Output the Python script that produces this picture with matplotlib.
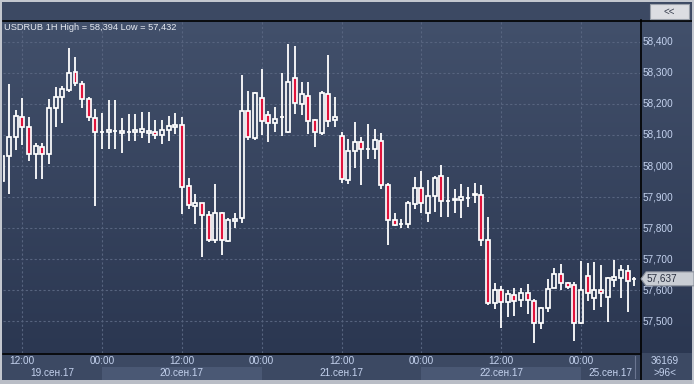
import numpy as np
import pandas as pd
import matplotlib
matplotlib.use("Agg")
import matplotlib.pyplot as plt
from matplotlib import transforms
from matplotlib.patches import Rectangle, Polygon
from matplotlib.lines import Line2D

plt.rcParams['font.family'] = ['Liberation Sans', 'DejaVu Sans']

# --- data: USDRUB hourly candles ---
symbol = "USDRUB"
period = "1H"
bars_total = "36169"
bars_shown = ">96<"

open_ = [57.952, 58.033, 58.092, 58.158, 58.125, 58.040, 58.062, 58.040, 58.186, 58.221,
         58.244, 58.302, 58.263, 58.215, 58.154, 58.109, 58.110, 58.112, 58.107, 58.108,
         58.108, 58.108, 58.107, 58.108, 58.099, 58.115, 58.125, 58.132, 57.935, 57.872,
         57.880, 57.841, 57.761, 57.848, 57.758, 57.824, 57.832, 58.176, 58.091, 58.219,
         58.163, 58.139, 58.157, 58.108, 58.282, 58.199, 58.224, 58.147, 58.107, 58.231,
         58.147, 58.096, 57.956, 58.047, 58.076, 58.055, 58.056, 58.080, 57.938, 57.825,
         57.814, 57.812, 57.877, 57.928, 57.848, 57.903, 57.967, 57.886, 57.892, 57.890,
         57.897, 57.908, 57.908, 57.763, 57.558, 57.600, 57.562, 57.584, 57.568, 57.591,
         57.565, 57.494, 57.542, 57.607, 57.652, 57.623, 57.617, 57.494, 57.646, 57.574,
         57.601, 57.580, 57.632, 57.639, 57.661, 57.636]
high = [58.040, 58.264, 58.180, 58.220, 58.159, 58.073, 58.073, 58.216, 58.255, 58.257,
        58.379, 58.352, 58.274, 58.222, 58.183, 58.172, 58.212, 58.212, 58.154, 58.167,
        58.167, 58.174, 58.174, 58.148, 58.148, 58.161, 58.170, 58.159, 57.960, 57.910,
        57.882, 57.855, 57.942, 57.853, 57.833, 57.848, 58.293, 58.241, 58.237, 58.312,
        58.177, 58.190, 58.299, 58.394, 58.386, 58.270, 58.270, 58.151, 58.242, 58.357,
        58.223, 58.108, 58.086, 58.142, 58.092, 58.135, 58.118, 58.106, 57.944, 57.848,
        57.830, 57.887, 57.965, 57.984, 57.955, 57.967, 58.003, 57.965, 57.926, 57.942,
        57.933, 57.945, 57.940, 57.837, 57.625, 57.614, 57.600, 57.607, 57.607, 57.620,
        57.571, 57.547, 57.636, 57.671, 57.685, 57.626, 57.627, 57.694, 57.689, 57.692,
        57.681, 57.642, 57.698, 57.681, 57.681, 57.642]
low = [57.920, 57.910, 58.052, 58.068, 58.016, 57.958, 57.958, 58.007, 58.126, 58.139,
       58.239, 58.258, 58.188, 58.146, 57.871, 58.056, 58.056, 58.056, 58.043, 58.081,
       58.081, 58.091, 58.075, 58.088, 58.072, 58.081, 58.103, 57.847, 57.863, 57.813,
       57.708, 57.757, 57.753, 57.715, 57.756, 57.802, 57.816, 58.084, 58.084, 58.100,
       58.078, 58.108, 58.097, 58.106, 58.167, 58.164, 58.102, 58.062, 58.100, 58.124,
       58.125, 57.946, 57.943, 57.993, 57.940, 58.023, 58.023, 57.927, 57.747, 57.806,
       57.802, 57.802, 57.863, 57.848, 57.821, 57.851, 57.837, 57.837, 57.848, 57.834,
       57.869, 57.880, 57.742, 57.554, 57.541, 57.480, 57.515, 57.517, 57.547, 57.525,
       57.432, 57.475, 57.529, 57.607, 57.601, 57.603, 57.437, 57.493, 57.567, 57.537,
       57.547, 57.499, 57.610, 57.576, 57.531, 57.615]
close = [58.033, 58.092, 58.161, 58.125, 58.038, 58.065, 58.040, 58.186, 58.221, 58.248,
         58.298, 58.266, 58.215, 58.157, 58.108, 58.110, 58.115, 58.113, 58.112, 58.109,
         58.115, 58.118, 58.113, 58.099, 58.115, 58.129, 58.132, 57.933, 57.874, 57.880,
         57.841, 57.762, 57.848, 57.761, 57.825, 57.830, 58.176, 58.092, 58.234, 58.144,
         58.139, 58.150, 58.158, 58.269, 58.204, 58.231, 58.144, 58.108, 58.234, 58.144,
         58.157, 57.959, 58.047, 58.076, 58.054, 58.056, 58.083, 57.938, 57.825, 57.811,
         57.815, 57.880, 57.928, 57.880, 57.903, 57.960, 57.886, 57.887, 57.893, 57.899,
         57.898, 57.911, 57.763, 57.558, 57.600, 57.562, 57.587, 57.565, 57.591, 57.568,
         57.494, 57.542, 57.603, 57.653, 57.623, 57.612, 57.494, 57.601, 57.590, 57.601,
         57.592, 57.639, 57.642, 57.665, 57.631, 57.637]

# hourly bars, weekend skipped
times = list(pd.date_range("2017-09-19 09:00", "2017-09-22 23:00", freq="h")) + \
        list(pd.date_range("2017-09-25 00:00", "2017-09-25 08:00", freq="h"))
month_names = {9: "сен"}
price_ticks = [57.5, 57.6, 57.7, 57.8, 57.9, 58.0, 58.1, 58.2, 58.3, 58.4]

W, H = 694, 384
BG = "#3c4963"
RED = "#e0143c"
LABEL = "#c4d2ee"
GRID = "#57647f"


def fx(px):
    return px / W


def fy(py):
    return 1 - py / H


def frect(x0, y0, x1, y1, color, z=5):
    fig.add_artist(Rectangle((fx(x0), fy(y1)), fx(x1) - fx(x0), fy(y0) - fy(y1),
                             transform=fig.transFigure, facecolor=color,
                             edgecolor="none", zorder=z))


def fline(x0, y0, x1, y1, color, lw=1.0, z=6):
    fig.add_artist(Line2D([fx(x0), fx(x1)], [fy(y0), fy(y1)], transform=fig.transFigure,
                          color=color, lw=lw, zorder=z))


fig = plt.figure(figsize=(W / 100, H / 100), dpi=100)
fig.patch.set_facecolor(BG)

# gradient behind plot + price scale
bg = fig.add_axes([0, fy(353), 1, fy(20) - fy(353)])
bg.axis("off")
top_c = np.array([0x42, 0x50, 0x6b]) / 255
bot_c = np.array([0x2b, 0x37, 0x51]) / 255
t = np.linspace(0, 1, 256)[:, None, None]
grad = top_c * (1 - t) + bot_c * t
grad = np.repeat(grad, 2, axis=1)
bg.imshow(grad, aspect="auto", extent=[0, 1, 0, 1], interpolation="bilinear")
bg.set_zorder(0)

ax = fig.add_axes([fx(3), fy(353), fx(640) - fx(3), fy(20) - fy(353)])
ax.set_zorder(1)
ax.patch.set_alpha(0)
n = len(close)
x = np.arange(n)
ax.set_xlim(0.1, 0.1 + 637 / 6.651)
ax.set_ylim(58.4 - (353 - 41.7) / 310.8, 58.4 + (41.7 - 20) / 310.8)
for s in ax.spines.values():
    s.set_visible(False)
ax.set_xticks([])
ax.set_yticks([])

# grid
grid_idx = [i for i, tm in enumerate(times) if tm.hour in (0, 12)]
for gi in grid_idx:
    ax.axvline(gi, color=GRID, lw=0.8, dashes=(2, 2), zorder=1)
for p in price_ticks:
    ax.axhline(p, color=GRID, lw=0.8, dashes=(2, 2), zorder=1)

# candles
o = np.array(open_)
c = np.array(close)
hi = np.array(high)
lo = np.array(low)
body_top = np.maximum(o, c)
body_bot = np.minimum(o, c)
up = c >= o
ax.vlines(x, body_top, hi, color="white", lw=1.3, zorder=2)
ax.vlines(x, lo, body_bot, color="white", lw=1.3, zorder=2)
ax.bar(x[up], (body_top - body_bot)[up], bottom=body_bot[up], width=0.6,
       facecolor="none", edgecolor="white", linewidth=1.25, zorder=3)
ax.bar(x[~up], (body_top - body_bot)[~up], bottom=body_bot[~up], width=0.6,
       facecolor=RED, edgecolor="white", linewidth=1.25, zorder=3)

# title
fig.text(fx(4), fy(27), f"{symbol} {period} High = {max(high):.3f} Low = {min(low):.3f}".replace(".", ","),
         color="#e6eaf2", fontsize=6.7, ha="left", va="center", zorder=10)

# price scale labels
ty = transforms.blended_transform_factory(fig.transFigure, ax.transData)
for p in price_ticks:
    fig.text(fx(643), p, f"{p:.3f}".replace(".", ","), transform=ty, color=LABEL,
             fontsize=7.2, ha="left", va="center", zorder=10)

# last price tag
last = close[-1]
ly_px = H - ax.transData.transform((0, last))[1]
tag = Polygon([[fx(641), fy(ly_px)], [fx(646), fy(ly_px - 7)], [fx(694), fy(ly_px - 7)],
               [fx(694), fy(ly_px + 7)], [fx(646), fy(ly_px + 7)]],
              closed=True, transform=fig.transFigure, facecolor="#c9cdd4",
              edgecolor="#8a909c", lw=0.8, zorder=11)
fig.add_artist(tag)
fig.text(fx(647), fy(ly_px), f"{last:.3f}".replace(".", ","), color="#2a3040",
         fontsize=7.2, ha="left", va="center", zorder=12)

# time axis
tx = transforms.blended_transform_factory(ax.transData, fig.transFigure)
for gi in grid_idx:
    fig.text(gi, fy(361), times[gi].strftime("%H:%M"), transform=tx, color=LABEL,
             fontsize=7.2, ha="center", va="center", zorder=10)

x0, x1 = ax.get_xlim()
days = sorted(set(tm.date() for tm in times))
for k, d in enumerate(days):
    idx = [i for i, tm in enumerate(times) if tm.date() == d]
    a = max(idx[0], x0)
    b = min(idx[-1] + 1, x1)
    if k % 2 == 1:
        fig.add_artist(Rectangle((a, fy(380)), b - a, fy(367) - fy(380), transform=tx,
                                 facecolor="#4a5874", edgecolor="none", zorder=4))
    lbl = f"{d.day:02d}.{month_names[d.month]}.{d.year % 100:02d}"
    fig.text((a + b) / 2, fy(373), lbl, transform=tx, color=LABEL,
             fontsize=7.2, ha="center", va="center", zorder=10)

# bar counter box
fig.text(fx(665), fy(361), bars_total, color=LABEL, fontsize=7.2, ha="center", va="center", zorder=10)
fig.text(fx(665), fy(373), bars_shown, color=LABEL, fontsize=7.2, ha="center", va="center", zorder=10)
fline(635, 356, 635, 378, "#6a7590", lw=0.8)

# frame lines
fline(3, 20.5, 694, 20.5, "black", lw=1.2)
fline(3, 353.5, 640, 353.5, "black", lw=1.2)
fline(640.5, 20, 640.5, 380, "black", lw=1.2)
frect(0, 0, 694, 2, "#c3c7cf", z=7)
frect(0, 0, 2, 384, "#c3c7cf", z=7)
frect(0, 380, 694, 384, "#b9bdc6", z=7)
frect(692, 0, 694, 384, "#c3c7cf", z=7)

# "<<" button
btn = Rectangle((fx(650), fy(19)), fx(689) - fx(650), fy(4) - fy(19), transform=fig.transFigure,
                facecolor="#dcdde2", edgecolor="#9aa0aa", lw=0.8, zorder=8)
fig.add_artist(btn)
fig.text(fx(669.5), fy(11.5), "<<", color="#3a4050", fontsize=7, ha="center", va="center", zorder=9)

fig.savefig("out.png", dpi=100, facecolor=fig.get_facecolor())
